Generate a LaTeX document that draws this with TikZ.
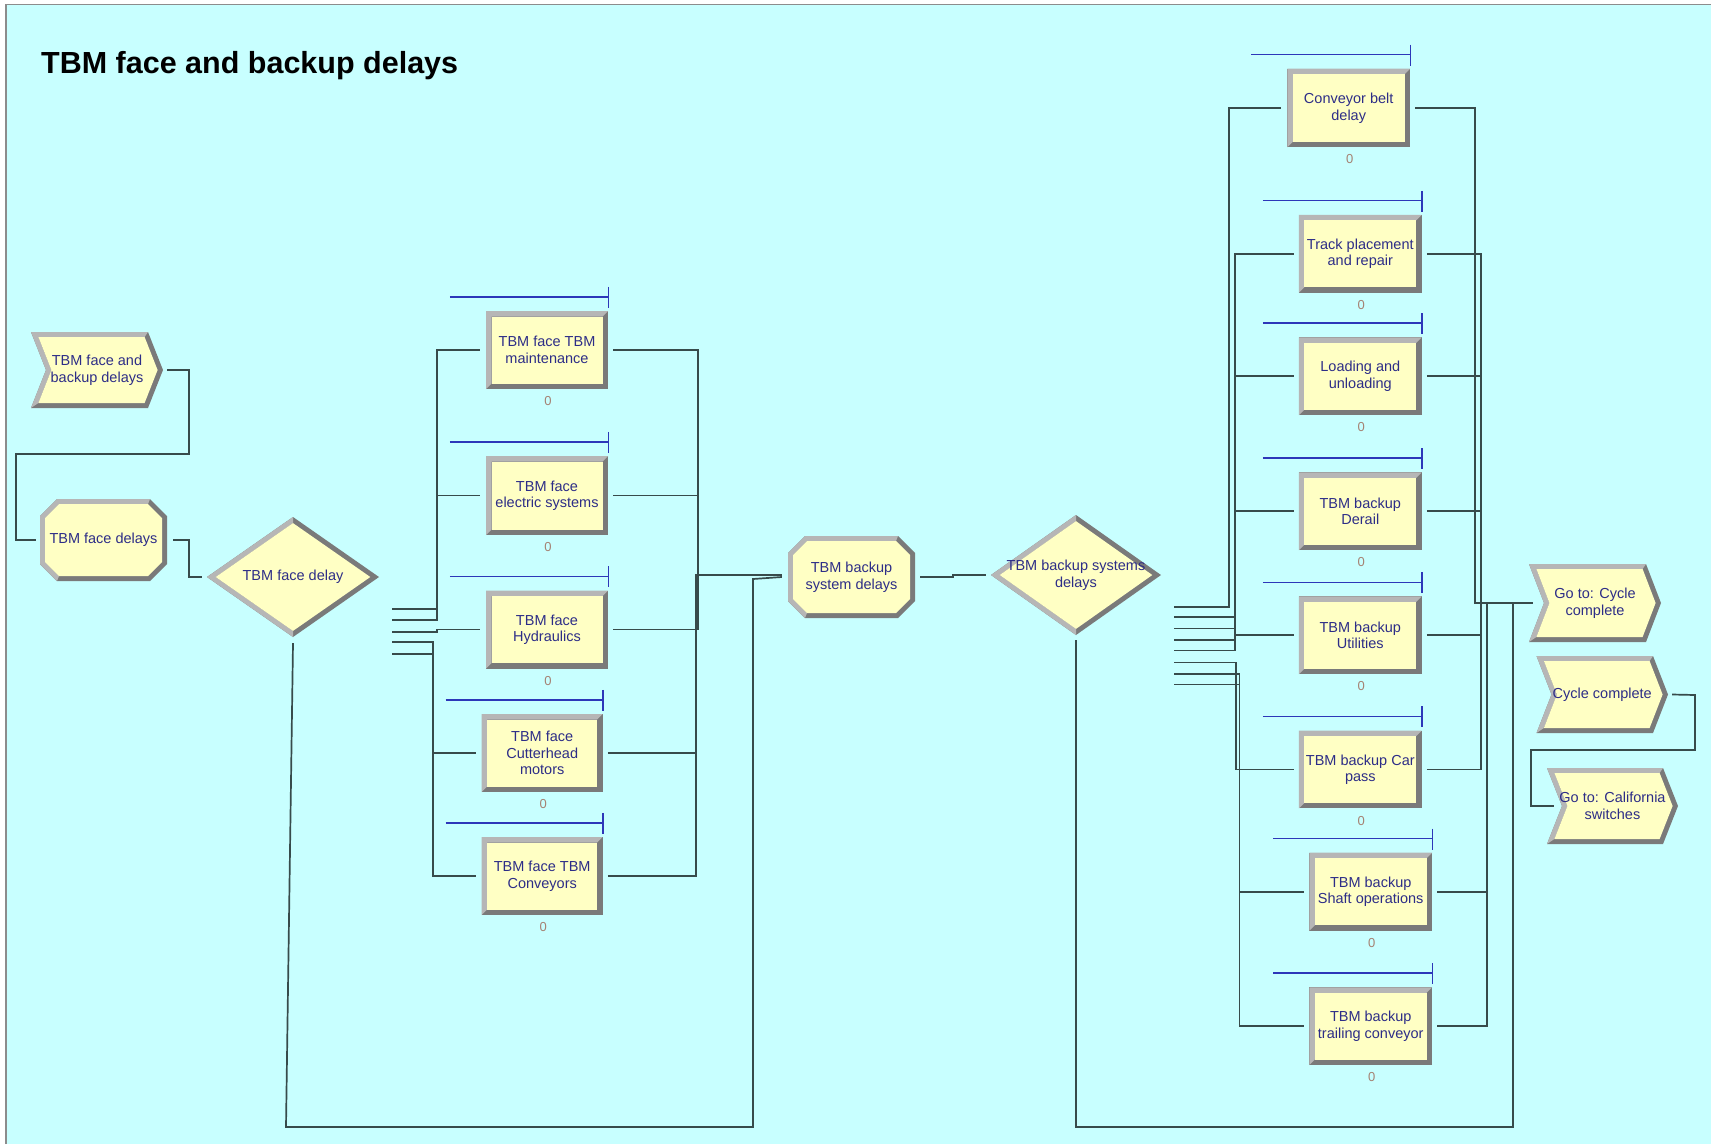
\documentclass[tikz,border=0pt]{standalone}
\usepackage{fontspec}
\setmainfont{Liberation Sans}
\definecolor{bgc}{RGB}{200,255,255}
\definecolor{nfill}{RGB}{255,255,196}
\definecolor{bvl}{RGB}{182,182,182}
\definecolor{bvd}{RGB}{122,122,122}
\definecolor{txt}{RGB}{45,45,135}
\definecolor{cn}{RGB}{55,75,75}
\definecolor{res}{RGB}{45,55,185}
\definecolor{zc}{RGB}{165,130,115}
\definecolor{brd}{RGB}{140,140,140}
\tikzset{
 lbl/.style={align=center, text=txt, font=\fontsize{14.5}{16.5}\selectfont, inner sep=0pt, draw=none},
 conn/.style={draw=cn, line width=1.7pt},
 resl/.style={draw=res, line width=1.4pt},
 zl/.style={text=zc, font=\fontsize{13}{13}\selectfont, inner sep=0pt},
}
% process box: name, cx, cy, w, h, text
\newcommand\PBox[6]{%
 \pgfmathsetmacro\bxa{#2-#4/2}\pgfmathsetmacro\bxb{#2+#4/2}%
 \pgfmathsetmacro\bya{#3-#5/2}\pgfmathsetmacro\byb{#3+#5/2}%
 \fill[bvd] (\bxa,\bya) rectangle (\bxb,\byb);
 \fill[bvl] (\bxa,\bya) -- (\bxb,\bya) -- (\bxb-5.5,\bya+5.5) -- (\bxa+5.5,\bya+5.5) -- (\bxa+5.5,\byb-5.5) -- (\bxa,\byb) -- cycle;
 \fill[nfill] (\bxa+5.5,\bya+5.5) rectangle (\bxb-5.5,\byb-5.5);
 \node[lbl,minimum width=#4,minimum height=#5] (#1) at (#2,#3) {#6};
 \draw[resl] ([shift={(-36,-14)}]#1.north west) -- ([shift={(0,-14)}]#1.north east);
 \draw[resl] ([shift={(0,-24)}]#1.north east) -- ([shift={(0,-3)}]#1.north east);
 \node[zl] (#1z) at ([shift={(1,12)}]#1.south) {0};
}
% octagon: name, cx, cy, w, h, text
\newcommand\OBox[6]{%
 \pgfmathsetmacro\bxa{#2-#4/2}\pgfmathsetmacro\bxb{#2+#4/2}%
 \pgfmathsetmacro\bya{#3-#5/2}\pgfmathsetmacro\byb{#3+#5/2}%
 \fill[bvd] (\bxa+17,\bya) -- (\bxb-17,\bya) -- (\bxb,\bya+17) -- (\bxb,\byb-17) -- (\bxb-17,\byb) -- (\bxa+17,\byb) -- (\bxa,\byb-17) -- (\bxa,\bya+17) -- cycle;
 \fill[bvl] (\bxa+17,\byb) -- (\bxa,\byb-17) -- (\bxa,\bya+17) -- (\bxa+17,\bya) -- (\bxb-17,\bya) -- (\bxb-19,\bya+5) -- (\bxa+19,\bya+5) -- (\bxa+5,\bya+19) -- (\bxa+5,\byb-19) -- (\bxa+19,\byb-5) -- cycle;
 \fill[nfill] (\bxa+19,\bya+5) -- (\bxb-19,\bya+5) -- (\bxb-5,\bya+19) -- (\bxb-5,\byb-19) -- (\bxb-19,\byb-5) -- (\bxa+19,\byb-5) -- (\bxa+5,\byb-19) -- (\bxa+5,\bya+19) -- cycle;
 \node[lbl,minimum width=#4,minimum height=#5] (#1) at (#2,#3) {#6};
}
% diamond: name, cx, cy, hw, hh, text
\newcommand\DBox[6]{%
 \fill[bvd] (#2-#4,#3) -- (#2,#3-#5) -- (#2+#4,#3) -- (#2,#3+#5) -- cycle;
 \fill[bvl] (#2-#4,#3) -- (#2,#3-#5) -- (#2,#3-#5+6.1) -- (#2-#4+8.7,#3) -- (#2,#3+#5-6.1) -- (#2,#3+#5) -- cycle;
 \fill[nfill] (#2-#4+8.7,#3) -- (#2,#3-#5+6.1) -- (#2+#4-8.7,#3) -- (#2,#3+#5-6.1) -- cycle;
 \node[lbl,minimum width=2*#4,minimum height=2*#5] (#1) at (#2,#3) {#6};
}
% chevron: name, x1, x2, y1, y2, d, text
\newcommand\CBox[7]{%
 \pgfmathsetmacro\cym{(#4+#5)/2}%
 \pgfmathsetmacro\ccx{(#2+#3+#6)/2}%
 \pgfmathsetmacro\cw{#3+#6-#2}%
 \pgfmathsetmacro\ch{#5-#4}%
 \fill[bvd] (#2,#4) -- (#3,#4) -- (#3+#6,\cym) -- (#3,#5) -- (#2,#5) -- (#2+#6,\cym) -- cycle;
 \fill[bvl] (#2,#4) -- (#3,#4) -- (#3-3.4,#4+5) -- (#2+7.4,#4+5) -- (#2+#6+5.4,\cym) -- (#2+7.4,#5-5) -- (#2,#5) -- (#2+#6,\cym) -- cycle;
 \fill[nfill] (#2+7.4,#4+5) -- (#3-3.4,#4+5) -- (#3+#6-5.4,\cym) -- (#3-3.4,#5-5) -- (#2+7.4,#5-5) -- (#2+#6+5.4,\cym) -- cycle;
 \node[lbl,minimum width=\cw,minimum height=\ch] (#1) at (\ccx,\cym) {#7};
}
\begin{document}
\begin{tikzpicture}[x=1pt,y=-1pt]
\useasboundingbox (0,0) rectangle (1711,1144);
\fill[white] (0,0) rectangle (1711,1144);
\fill[bgc] (6,4.5) rectangle (1711,1144);
\draw[draw=brd, line width=1.5pt] (6,1144) -- (6,4.5) -- (1711,4.5);

\node[anchor=base west, font=\fontsize{30.5}{34}\selectfont\bfseries, inner sep=0pt] (title) at (41,73) {TBM face and backup delays};

% left part
\CBox{st}{31}{148}{332}{408}{15}{TBM face and\\backup delays}
\OBox{fd}{103.5}{540}{127}{82}{TBM face delays}
\DBox{dec1}{293}{577}{86}{60}{TBM face delay}

\PBox{maint}{547}{350}{122}{78}{TBM face TBM\\maintenance}
\PBox{elec}{547}{495.5}{122}{79}{TBM face\\electric systems}
\PBox{hydr}{547}{629.5}{122}{78}{TBM face\\Hydraulics}
\PBox{cutter}{542.2}{753}{121}{78}{TBM face\\Cutterhead\\motors}
\PBox{conv}{542.2}{876}{121}{78}{TBM face TBM\\Conveyors}

\OBox{bksys}{851.5}{577}{127}{82}{TBM backup\\system delays}
\DBox{dec2}{1076}{575}{85}{60}{TBM backup systems\\delays}

% right part
\PBox{belt}{1348.7}{108}{122.7}{78.6}{Conveyor belt\\delay}
\PBox{track}{1360.3}{253.8}{122.7}{77.7}{Track placement\\and repair}
\PBox{load}{1360.3}{376.2}{122.7}{77.7}{Loading and\\unloading}
\PBox{derail}{1360.3}{511.2}{122.7}{77.7}{TBM backup\\Derail}
\PBox{util}{1360.3}{635.3}{122.7}{77.7}{TBM backup\\Utilities}
\PBox{car}{1360.3}{769.5}{122.7}{77.7}{TBM backup Car\\pass}
\PBox{shaft}{1370.7}{891.7}{122.7}{78}{TBM backup\\Shaft operations}
\PBox{trail}{1370.7}{1026.2}{122.7}{77.7}{TBM backup\\trailing conveyor}

\CBox{gocyc}{1529}{1646}{564}{642}{15}{Go to: Cycle\\complete}
\CBox{cyc}{1536.5}{1653}{656}{733}{15}{Cycle complete}
\CBox{gocal}{1547}{1663}{768}{844}{15}{Go to: California\\switches}

% connectors, left
\draw[conn] ([shift={(4,0)}]st.east) -- (189,370) -- (189,454) -- (15.7,454) |- ([shift={(-4,0)}]fd.west);
\draw[conn] ([shift={(6,0)}]fd.east) -- (189,540) |- ([shift={(-5,0)}]dec1.west);

\draw[conn] ([shift={(13,32)}]dec1.east) -- (437,609) |- ([shift={(-6,0)}]maint.west);
\draw[conn] ([shift={(13,43)}]dec1.east) -- (437,620) |- ([shift={(-6,0)}]elec.west);
\draw[conn] ([shift={(13,55)}]dec1.east) -- (437,632) |- ([shift={(-6,0)}]hydr.west);
\draw[conn] ([shift={(13,65)}]dec1.east) -- (433,642) |- ([shift={(-6,0)}]cutter.west);
\draw[conn] ([shift={(13,77)}]dec1.east) -- (433,654) |- ([shift={(-6,0)}]conv.west);

\draw[conn] ([shift={(5,0)}]maint.east) -| (698,575) -- ([shift={(-6,-2)}]bksys.west);
\draw[conn] ([shift={(5,0)}]elec.east) -| (698,575) -- ([shift={(-6,-2)}]bksys.west);
\draw[conn] ([shift={(5,0)}]hydr.east) -| (698,575) -- ([shift={(-6,-2)}]bksys.west);
\draw[conn] ([shift={(5,0)}]cutter.east) -| (696,575) -- ([shift={(-6,-2)}]bksys.west);
\draw[conn] ([shift={(5,0)}]conv.east) -| (696,575) -- ([shift={(-6,-2)}]bksys.west);

\draw[conn] ([shift={(0,6)}]dec1.south) -- (286,1127) -- (753,1127) -- (753,579) -- ([shift={(-6,0)}]bksys.west);
\draw[conn] ([shift={(5,0)}]bksys.east) -- (953,577) -- (953,575) -- ([shift={(-5,0)}]dec2.west);

% connectors, right
\draw[conn] ([shift={(13,31.7)}]dec2.east) -- (1229,606.7) |- ([shift={(-6,0)}]belt.west);
\draw[conn] ([shift={(13,42.3)}]dec2.east) -- (1235,617.3) |- ([shift={(-5,0)}]track.west);
\draw[conn] ([shift={(13,53.6)}]dec2.east) -- (1235,628.6) |- ([shift={(-5,0)}]load.west);
\draw[conn] ([shift={(13,65.2)}]dec2.east) -- (1235,640.2) |- ([shift={(-5,0)}]util.west);
\draw[conn] ([shift={(13,75.5)}]dec2.east) -- (1235,650.5) |- ([shift={(-5,0)}]derail.west);
\draw[conn] ([shift={(13,87.5)}]dec2.east) -- (1236,662.5) |- ([shift={(-5,0)}]car.west);
\draw[conn] ([shift={(13,98.8)}]dec2.east) -- (1239.5,673.8) |- ([shift={(-5,0)}]shaft.west);
\draw[conn] ([shift={(13,109.4)}]dec2.east) -- (1239.5,684.4) |- ([shift={(-5,0)}]trail.west);

\draw[conn] ([shift={(5,0)}]belt.east) -| (1475,603) -- ([shift={(4,0)}]gocyc.west);
\draw[conn] ([shift={(5,0)}]track.east) -| (1481,603) -- ([shift={(4,0)}]gocyc.west);
\draw[conn] ([shift={(5,0)}]load.east) -| (1481,603) -- ([shift={(4,0)}]gocyc.west);
\draw[conn] ([shift={(5,0)}]derail.east) -| (1481,603) -- ([shift={(4,0)}]gocyc.west);
\draw[conn] ([shift={(5,0)}]util.east) -| (1481,603) -- ([shift={(4,0)}]gocyc.west);
\draw[conn] ([shift={(5,0)}]car.east) -| (1481,603) -- ([shift={(4,0)}]gocyc.west);
\draw[conn] ([shift={(5,0)}]shaft.east) -| (1487,603) -- ([shift={(4,0)}]gocyc.west);
\draw[conn] ([shift={(5,0)}]trail.east) -| (1487,603) -- ([shift={(4,0)}]gocyc.west);
\draw[conn] ([shift={(0,5)}]dec2.south) -- (1076,1127) -| (1513,603) -- ([shift={(4,0)}]gocyc.west);

\draw[conn] ([shift={(4,0)}]cyc.east) -- (1695,695) -- (1695,750) -- (1531,750) |- ([shift={(7,0)}]gocal.west);
\end{tikzpicture}
\end{document}
